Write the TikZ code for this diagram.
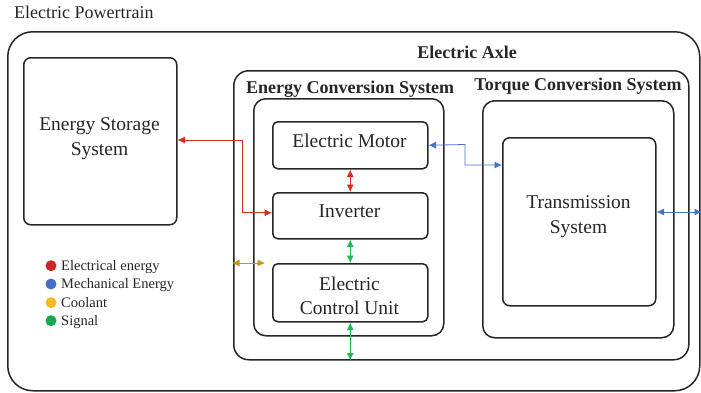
\documentclass[tikz,border=0pt]{standalone}
\usepackage{fontspec}
\setmainfont{Liberation Serif}
\usetikzlibrary{arrows.meta,calc}
\definecolor{ered}{RGB}{212,45,35}
\definecolor{eblue}{RGB}{70,110,205}
\definecolor{egold}{RGB}{195,150,20}
\definecolor{egreen}{RGB}{30,185,80}
\definecolor{lyellow}{RGB}{250,185,30}
\definecolor{lgreen}{RGB}{20,170,80}
\definecolor{lred}{RGB}{200,40,30}
\definecolor{lblue}{RGB}{70,110,200}
\tikzset{
  box/.style={draw=black!85, line width=1.5pt, inner sep=0pt, anchor=north west},
  boxtext/.style={font=\fontsize{19.5}{24}\selectfont, anchor=base, inner sep=0pt, text=black!85},
  head/.style={font=\bfseries\fontsize{18}{22}\selectfont, anchor=base, inner sep=0pt, text=black!85},
  legtext/.style={font=\fontsize{14.5}{17}\selectfont, anchor=base west, inner sep=0pt, text=black!85},
  flow/.style={line width=0.8pt, {Latex[length=7.5pt,width=7pt]}-{Latex[length=7.5pt,width=7pt]}},
  dot/.style={circle, inner sep=0pt, minimum size=11pt}
}
\begin{document}
\begin{tikzpicture}[x=1pt,y=-1pt]
\useasboundingbox (0,0) rectangle (701,392);
% boxes
\node[box, rounded corners=25pt, minimum width=692pt, minimum height=359pt] (outer) at (7,31) {};
\node[box, rounded corners=7pt, minimum width=153pt, minimum height=167pt] (ess) at (23,57) {};
\node[box, rounded corners=15pt, minimum width=455pt, minimum height=289pt] (axle) at (233,70) {};
\node[box, rounded corners=12pt, minimum width=190pt, minimum height=237pt] (ecs) at (253,98) {};
\node[box, rounded corners=5pt, minimum width=155pt, minimum height=47pt] (motor) at (272,121) {};
\node[box, rounded corners=5pt, minimum width=155pt, minimum height=46pt] (inv) at (272,192) {};
\node[box, rounded corners=5pt, minimum width=155pt, minimum height=58pt] (ecu) at (272,263) {};
\node[box, rounded corners=12pt, minimum width=191pt, minimum height=237pt] (tcs) at (482,100) {};
\node[box, rounded corners=7pt, minimum width=153pt, minimum height=168pt] (trans) at (502,137) {};
% texts
\node[font=\fontsize{18}{22}\selectfont, anchor=base west, inner sep=0pt, text=black!85] (tpt) at (14,18) {Electric Powertrain};
\node[boxtext] (tess1) at (99.5,130) {Energy Storage};
\node[boxtext] (tess2) at (99.5,155) {System};
\node[head] (taxle) at (467,58) {Electric Axle};
\node[head] (tecs) at (350,93) {Energy Conversion System};
\node[head] (ttcs) at (578,90) {Torque Conversion System};
\node[boxtext] (tmot) at (349.5,147) {Electric Motor};
\node[boxtext] (tinv) at (349.5,217) {Inverter};
\node[boxtext] (tecu1) at (349.5,290) {Electric};
\node[boxtext] (tecu2) at (349.5,314) {Control Unit};
\node[boxtext] (ttr1) at (578.5,208) {Transmission};
\node[boxtext] (ttr2) at (578.5,233) {System};
% legend
\node[dot, fill=lred] (d1) at (51,265.7) {};
\node[dot, fill=lblue] (d2) at (51,284) {};
\node[dot, fill=lyellow] (d3) at (51,302.7) {};
\node[dot, fill=lgreen] (d4) at (51,320.7) {};
\node[legtext] (l1) at (61,270.5) {Electrical energy};
\node[legtext] (l2) at (61,288.8) {Mechanical Energy};
\node[legtext] (l3) at (61,307.5) {Coolant};
\node[legtext] (l4) at (61,325.5) {Signal};
% connectors
\coordinate (rbend) at (242,140);
\coordinate (bbend) at (465,144.5);
\coordinate (bend2) at (465,165);
\coordinate (rightend) at (702,212);
\coordinate (coolL) at (232,263);
\coordinate (coolR) at (265,263);
\draw[flow, ered] (ess.east |- rbend) -- (rbend) |- ($(inv.west)+(0,-3)$);
\draw[flow, ered] (motor.south) -- (inv.north);
\draw[flow, eblue] (motor.east) -- (bbend) |- (trans.west |- bend2);
\draw[flow, eblue] (trans.east |- rightend) -- (rightend);
\draw[flow, egreen] (inv.south) -- (ecu.north);
\draw[flow, egreen] (ecu.south) -- (ecu.south |- axle.south);
\draw[flow, egold] (coolL) -- (coolR);
\end{tikzpicture}
\end{document}
